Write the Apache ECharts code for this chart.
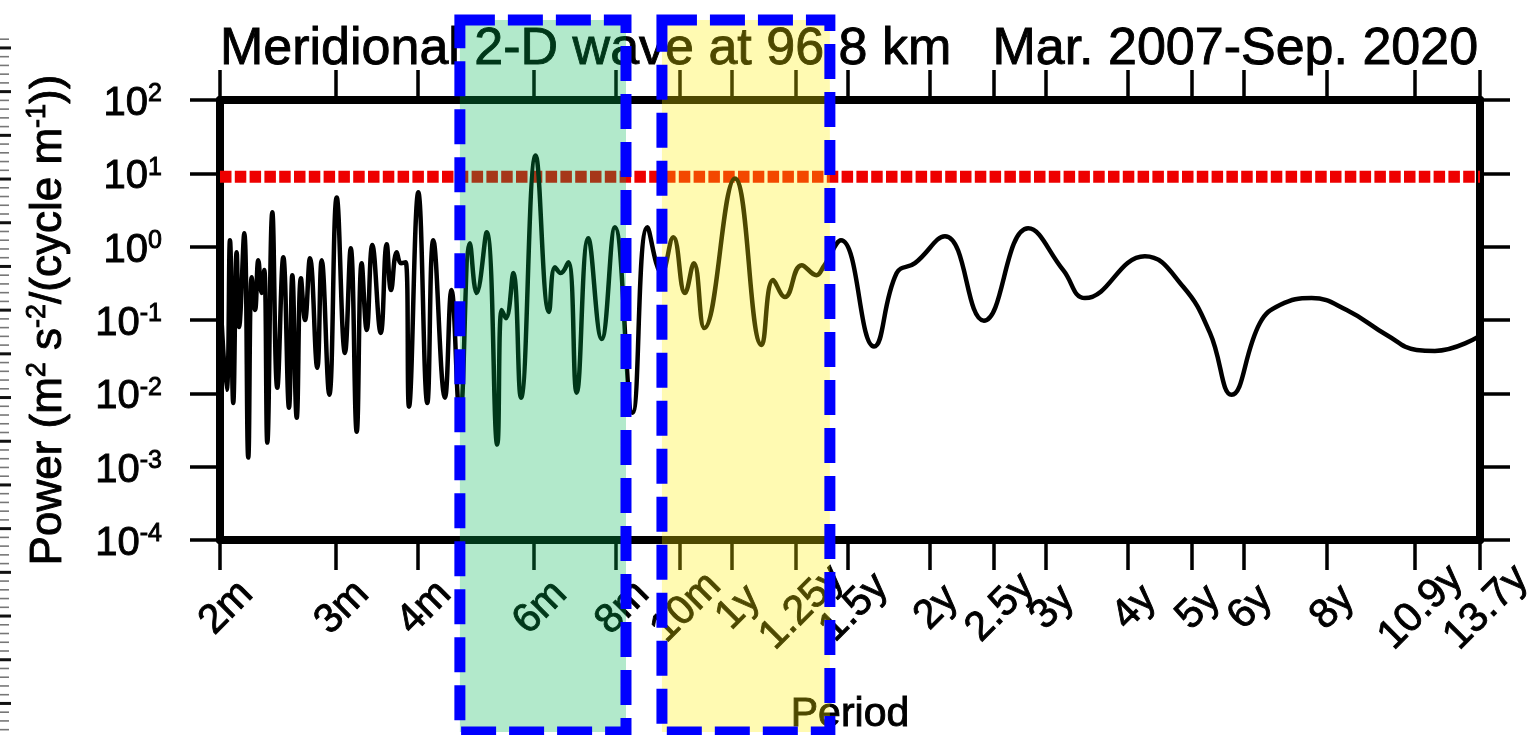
<!DOCTYPE html>
<html><head><meta charset="utf-8">
<script src="https://cdn.jsdelivr.net/npm/echarts@6/dist/echarts.min.js"></script>
<style>html,body{margin:0;padding:0;background:#fff}#c{width:1539px;height:735px}</style>
</head><body><div id="c"></div>
<script>
// ---- data (period in months, power in m^2 s^-2 / (cycle m^-1)) ----
const periods = [2.000, 2.047, 2.071, 2.095, 2.120, 2.138, 2.177, 2.208, 2.235, 2.261, 2.287, 2.314, 2.335, 2.360, 2.402, 2.444, 2.496, 2.546, 2.576, 2.616, 2.655, 2.693, 2.740, 2.811, 2.855, 2.932, 3.009, 3.097, 3.160, 3.227, 3.284, 3.342, 3.408, 3.510, 3.584, 3.639, 3.712, 3.768, 3.830, 3.875, 4.003, 4.131, 4.219, 4.394, 4.496, 4.631, 4.796, 4.910, 5.085, 5.277, 5.359, 5.440, 5.581, 5.733, 6.036, 6.324, 6.458, 6.588, 6.765, 6.967, 7.256, 7.604, 7.966, 8.475, 8.925, 9.382, 9.770, 10.18, 10.50, 10.89, 12.12, 13.31, 13.86, 14.44, 15.31, 16.13, 16.51, 17.57, 19.72, 21.35, 22.76, 25.28, 28.97, 33.83, 38.24, 41.26, 50.89, 58.19, 63.90, 68.93, 76.11, 81.63, 91.21, 103.1, 118.6, 131.7, 140.4, 164.3];
const power = [0.256, 0.0112, 1.22, 0.0074, 0.84, 0.080, 1.52, 0.00133, 0.384, 0.137, 0.654, 0.233, 0.479, 0.00213, 2.94, 0.0119, 0.718, 0.00637, 0.409, 0.00466, 0.372, 0.100, 0.697, 0.0223, 0.654, 0.00957, 4.70, 0.0356, 0.953, 0.0030, 0.596, 0.0731, 1.05, 0.0666, 1.08, 0.256, 0.84, 0.596, 0.614, 0.00658, 5.50, 0.0074, 1.22, 0.0087, 0.256, 0.00481, 1.11, 0.233, 1.57, 0.0020, 0.137, 0.106, 0.436, 0.0087, 17.5, 0.129, 0.526, 0.436, 0.614, 0.0102, 1.30, 0.0552, 1.84, 0.00545, 1.84, 0.436, 1.34, 0.233, 0.596, 0.0779, 8.52, 0.0457, 0.350, 0.206, 0.560, 0.409, 0.526, 1.22, 0.0434, 0.436, 0.596, 1.39, 0.098, 1.78, 0.479, 0.199, 0.741, 0.284, 0.0666, 0.00957, 0.091, 0.160, 0.199, 0.137, 0.0625, 0.0391, 0.0379, 0.0607];
const tickPeriods = [2, 3, 4, 6, 8, 10, 12, 15, 18, 24, 30, 36, 48, 60, 72, 96, 130.8, 164.4];
const tickLabels = ['2m', '3m', '4m', '6m', '8m', '10m', '1y', '1.25y', '1.5y', '2y', '2.5y', '3y', '4y', '5y', '6y', '8y', '10.9y', '13.7y'];
const yMin = 1e-4, yMax = 1e2;
const threshold = 9;
const greenBand = [4.63, 8.28];
const yellowBand = [9.39, 16.9];
const titleLeft = 'Meridional 2-D wave at 96.8 km';
const titleRight = 'Mar. 2007-Sep. 2020';
const xName = 'Period';
const yName = 'Power (m{s|2} s{s|-2}/(cycle m{s|-1}))';

const FONT = '"Liberation Sans", Arial, Helvetica, sans-serif';
const lg = Math.log10;
const xMin = lg(tickPeriods[0]), xMax = lg(tickPeriods[tickPeriods.length - 1]);
const tickX = tickPeriods.map(lg);

function xLabel(v) {
  let best = 0, d = Infinity;
  tickX.forEach((t, i) => { const e = Math.abs(t - v); if (e < d) { d = e; best = i; } });
  return tickLabels[best];
}

const BW = 0.9; // text stroke to mimic the heavier original glyphs
const txt = (size, extra) => Object.assign({fontSize: size, fontFamily: FONT, color: '#000',
  textBorderColor: '#000', textBorderWidth: BW}, extra || {});

const chart = echarts.init(document.getElementById('c'), null, {renderer: 'canvas'});
const frameW = 8;
const option = {
  animation: false,
  backgroundColor: '#fff',
  title: [
    {text: titleLeft, left: 220, top: 24, padding: 0,
     textStyle: txt(52, {fontWeight: 'normal', lineHeight: 52})},
    {text: titleRight, right: 60, top: 24, padding: 0,
     textStyle: txt(52, {fontWeight: 'normal', lineHeight: 52})}
  ],
  grid: {left: 220, right: 59, top: 100, bottom: 195, containLabel: false, outerBoundsMode: 'none'},
  xAxis: [{
    type: 'value', min: xMin, max: xMax, position: 'bottom',
    name: xName, nameLocation: 'middle', nameGap: 154, nameMoveOverlap: false,
    nameTextStyle: txt(41, {lineHeight: 41}),
    axisLine: {show: true, lineStyle: {color: '#000', width: frameW}},
    axisTick: {show: true, customValues: tickX, length: 30, inside: false, lineStyle: {color: '#000', width: 3.5}},
    axisLabel: Object.assign(txt(41), {show: true, customValues: tickX, rotate: 45, align: 'center', verticalAlign: 'middle',
      margin: 74, padding: [18, 0, 0, 18], formatter: xLabel, hideOverlap: false}),
    splitLine: {show: false}
  }, {
    type: 'value', min: xMin, max: xMax, position: 'top',
    axisLine: {show: true, lineStyle: {color: '#000', width: frameW}},
    axisTick: {show: true, customValues: tickX, length: 30, lineStyle: {color: '#000', width: 3.5}},
    axisLabel: {show: false}, splitLine: {show: false}
  }],
  yAxis: [{
    type: 'log', logBase: 10, min: yMin, max: yMax, position: 'left',
    name: yName, nameLocation: 'middle', nameGap: 146, nameRotate: 90, nameMoveOverlap: false,
    nameTextStyle: txt(44, {lineHeight: 50,
      rich: {s: txt(27, {lineHeight: 27, verticalAlign: 'top'})}}),
    axisLine: {show: true, lineStyle: {color: '#000', width: frameW}},
    axisTick: {show: true, length: 30, lineStyle: {color: '#000', width: 3.5}},
    axisLabel: {show: true, margin: 58, padding: [8, 0, 0, 0],
      formatter: v => '{b|10}{s|' + Math.round(lg(v)) + '}',
      rich: {b: txt(40, {lineHeight: 44}),
             s: txt(25, {lineHeight: 25, verticalAlign: 'top'})}},
    splitLine: {show: false}, minorTick: {show: false}
  }, {
    type: 'log', logBase: 10, min: yMin, max: yMax, position: 'right',
    axisLine: {show: true, lineStyle: {color: '#000', width: frameW}},
    axisTick: {show: true, length: 30, lineStyle: {color: '#000', width: 3.5}},
    axisLabel: {show: false}, splitLine: {show: false}
  }],
  series: [{
    type: 'line', xAxisIndex: 0, yAxisIndex: 0, name: 'threshold',
    data: [[xMin, threshold], [xMax, threshold]],
    symbol: 'none', silent: true, z: 2,
    lineStyle: {color: '#ee0000', width: 12, type: [11.5, 3.3], cap: 'butt'}
  }, {
    type: 'line', xAxisIndex: 0, yAxisIndex: 0, name: 'power',
    data: periods.map((p, i) => [lg(p), power[i]]),
    symbol: 'none', showSymbol: false, smooth: 0.45, silent: true, z: 3,
    lineStyle: {color: '#000', width: 4.5}
  }]
};
chart.setOption(option);

// overlays (bands) positioned from data via the axis scale
function bandRect(band, fill) {
  const x1 = chart.convertToPixel({xAxisIndex: 0}, lg(band[0]));
  const x2 = chart.convertToPixel({xAxisIndex: 0}, lg(band[1]));
  return {type: 'rect', z: 100, silent: true,
    shape: {x: x1, y: 20, width: x2 - x1, height: 712},
    style: {fill: fill, stroke: '#0000ff', lineWidth: 11, lineDash: [35, 13]}};
}
const graphics = [bandRect(greenBand, 'rgba(0,183,83,0.30)'), bandRect(yellowBand, 'rgba(255,240,0,0.30)')];
// ruler marks at the left edge of the scanned figure
for (let i = 0, y = 39.2; y < 735; i++, y += 8.74) {
  const thick = (i % 5) === 1;
  graphics.push({type: 'line', silent: true, z: 50,
    shape: {x1: 0, y1: y, x2: thick ? 11 : 9, y2: y},
    style: {stroke: thick ? '#111' : '#777', lineWidth: thick ? 3 : 1.6}});
}
chart.setOption({graphic: graphics});
</script>
</body></html>
